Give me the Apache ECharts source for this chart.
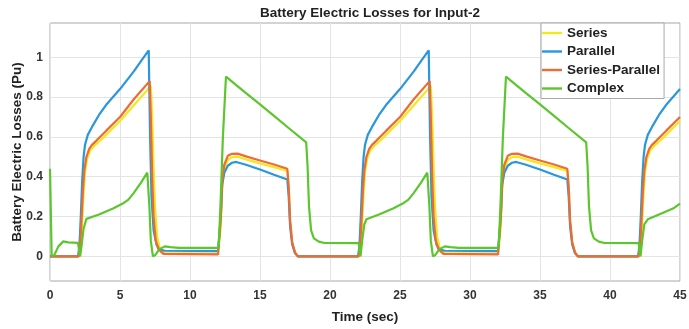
<!DOCTYPE html>
<html>
<head>
<meta charset="utf-8">
<script src="https://cdn.jsdelivr.net/npm/echarts@6/dist/echarts.min.js"></script>
<style>
html,body{margin:0;padding:0;background:#fff;}
#c{width:689px;height:329px;}
</style>
</head>
<body>
<div id="c"></div>
<script>
const titleText = 'Battery Electric Losses for Input-2';
const xName = 'Time (sec)';
const yName = 'Battery Electric Losses (Pu)';
const seriesNames = ['Series', 'Parallel', 'Series-Parallel', 'Complex'];
const yTicks = [0, 0.2, 0.4, 0.6, 0.8, 1];

const seriesData = [
  [0,0],[2.1,0],[2.2,0.05],[2.3,0.18],[2.4,0.32],[2.5,0.42],[2.65,0.49],[2.85,0.53],[3.1,0.55],[3.4,0.57],[4,0.61],[5,0.68],[6,0.76],[7.2,0.855],
  [7.3,0.7],[7.4,0.45],[7.5,0.25],[7.65,0.1],[7.85,0.04],[8.2,0.016],[12.0,0.012],[12.1,0.005],[12.2,0.15],[12.3,0.35],[12.45,0.44],[12.7,0.485],[13.0,0.498],[13.4,0.5],
  [14,0.487],[15,0.467],[16,0.448],[16.95,0.43],[17.05,0.35],[17.15,0.18],[17.3,0.07],[17.5,0.02],[17.7,0],
  [22.1,0],[22.2,0.05],[22.3,0.18],[22.4,0.32],[22.5,0.42],[22.65,0.49],[22.85,0.53],[23.1,0.55],[23.4,0.57],[24,0.61],[25,0.68],[26,0.76],[27.2,0.855],
  [27.3,0.7],[27.4,0.45],[27.5,0.25],[27.65,0.1],[27.85,0.04],[28.2,0.016],[32.0,0.012],[32.1,0.005],[32.2,0.15],[32.3,0.35],[32.45,0.44],[32.7,0.485],[33.0,0.498],[33.4,0.5],
  [34,0.487],[35,0.467],[36,0.448],[36.95,0.43],[37.05,0.35],[37.15,0.18],[37.3,0.07],[37.5,0.02],[37.7,0],
  [42.1,0],[42.2,0.05],[42.3,0.18],[42.4,0.32],[42.5,0.42],[42.65,0.49],[42.85,0.53],[43.1,0.55],[43.4,0.57],[44,0.61],[45,0.68]
];

const parallelData = [
  [0,0],[2.0,0],[2.1,0.05],[2.2,0.2],[2.3,0.38],[2.4,0.5],[2.5,0.56],[2.7,0.61],[3.0,0.65],[3.5,0.71],[4.0,0.76],[4.5,0.80],[5,0.84],[5.5,0.885],[6,0.93],[6.5,0.98],[7.05,1.035],
  [7.15,0.6],[7.25,0.3],[7.4,0.13],[7.6,0.06],[7.8,0.035],[8.2,0.028],[12.0,0.026],[12.1,0.02],[12.2,0.2],[12.3,0.36],[12.45,0.42],[12.7,0.455],[13.0,0.47],[13.3,0.474],
  [14,0.46],[15,0.436],[16,0.41],[16.95,0.386],[17.05,0.3],[17.15,0.15],[17.3,0.06],[17.5,0.015],[17.7,0],
  [22.0,0],[22.1,0.05],[22.2,0.2],[22.3,0.38],[22.4,0.5],[22.5,0.56],[22.7,0.61],[23.0,0.65],[23.5,0.71],[24.0,0.76],[24.5,0.80],[25,0.84],[25.5,0.885],[26,0.93],[26.5,0.98],[27.05,1.035],
  [27.15,0.6],[27.25,0.3],[27.4,0.13],[27.6,0.06],[27.8,0.035],[28.2,0.028],[32.0,0.026],[32.1,0.02],[32.2,0.2],[32.3,0.36],[32.45,0.42],[32.7,0.455],[33.0,0.47],[33.3,0.474],
  [34,0.46],[35,0.436],[36,0.41],[36.95,0.386],[37.05,0.3],[37.15,0.15],[37.3,0.06],[37.5,0.015],[37.7,0],
  [42.0,0],[42.1,0.05],[42.2,0.2],[42.3,0.38],[42.4,0.5],[42.5,0.56],[42.7,0.61],[43.0,0.65],[43.5,0.71],[44.0,0.76],[44.5,0.80],[45,0.84]
];

const seriesParallelData = [
  [0,0],[2.05,0],[2.15,0.05],[2.25,0.18],[2.35,0.33],[2.45,0.43],[2.6,0.5],[2.8,0.54],[3.0,0.56],[3.3,0.58],[4,0.63],[5,0.70],[6,0.79],[7.12,0.88],
  [7.2,0.7],[7.3,0.4],[7.4,0.2],[7.55,0.08],[7.75,0.035],[8.1,0.012],[12.0,0.01],[12.1,0.0],[12.2,0.2],[12.3,0.38],[12.45,0.46],[12.7,0.505],[13.0,0.515],[13.4,0.516],
  [14,0.502],[15,0.481],[16,0.461],[16.95,0.44],[17.05,0.35],[17.15,0.18],[17.3,0.07],[17.5,0.02],[17.7,0],
  [22.05,0],[22.15,0.05],[22.25,0.18],[22.35,0.33],[22.45,0.43],[22.6,0.5],[22.8,0.54],[23.0,0.56],[23.3,0.58],[24,0.63],[25,0.70],[26,0.79],[27.12,0.88],
  [27.2,0.7],[27.3,0.4],[27.4,0.2],[27.55,0.08],[27.75,0.035],[28.1,0.012],[32.0,0.01],[32.1,0.0],[32.2,0.2],[32.3,0.38],[32.45,0.46],[32.7,0.505],[33.0,0.515],[33.4,0.516],
  [34,0.502],[35,0.481],[36,0.461],[36.95,0.44],[37.05,0.35],[37.15,0.18],[37.3,0.07],[37.5,0.02],[37.7,0],
  [42.05,0],[42.15,0.05],[42.25,0.18],[42.35,0.33],[42.45,0.43],[42.6,0.5],[42.8,0.54],[43.0,0.56],[43.3,0.58],[44,0.63],[45,0.70]
];

const complexData = [
  [0,0.44],[0.12,0],[0.3,0.005],[0.6,0.05],[0.95,0.075],[1.3,0.07],[2.0,0.068],[2.08,0.03],[2.15,0.0],[2.25,0.05],[2.4,0.14],[2.6,0.188],[3.5,0.21],[4.5,0.24],[5.2,0.265],[5.6,0.285],[6.0,0.32],[6.5,0.37],[6.95,0.42],
  [7.1,0.25],[7.2,0.08],[7.35,0.0],[7.5,0.005],[7.8,0.035],[8.2,0.05],[8.6,0.046],[9.2,0.042],[12.05,0.042],[12.2,0.3],[12.35,0.6],[12.57,0.903],[13,0.878],[14,0.82],[15,0.763],[16,0.705],[17,0.647],[18.3,0.572],
  [18.4,0.45],[18.5,0.25],[18.65,0.13],[18.85,0.09],[19.2,0.074],[19.6,0.067],[22.05,0.066],[22.12,0.02],[22.18,0],[22.3,0.08],[22.45,0.16],[22.6,0.186],[23.5,0.21],[24.5,0.24],[25.2,0.265],[25.6,0.285],[26.0,0.32],[26.5,0.37],[26.95,0.42],
  [27.1,0.25],[27.2,0.08],[27.35,0.0],[27.5,0.005],[27.8,0.035],[28.2,0.05],[28.6,0.046],[29.2,0.042],[32.05,0.042],[32.2,0.3],[32.35,0.6],[32.57,0.903],[33,0.878],[34,0.82],[35,0.763],[36,0.705],[37,0.647],[38.3,0.572],
  [38.4,0.45],[38.5,0.25],[38.65,0.13],[38.85,0.09],[39.2,0.074],[39.6,0.067],[42.05,0.066],[42.12,0.02],[42.18,0],[42.3,0.08],[42.45,0.16],[42.7,0.186],[43.5,0.21],[44.5,0.24],[45,0.265]
];

const colors = ['#F2E81C', '#2A96DE', '#EE6B33', '#5CC62E'];
const allData = [seriesData, parallelData, seriesParallelData, complexData];
const FONT = 'Liberation Sans, Arial, sans-serif';

const chart = echarts.init(document.getElementById('c'), null, {renderer: 'canvas'});
chart.setOption({
  animation: false,
  backgroundColor: '#fff',
  title: {
    text: titleText, left: 365, top: 1, textAlign: 'center',
    textStyle: {fontFamily: FONT, fontSize: 13.5, fontWeight: 'bold', color: '#222'}
  },
  grid: {left: 50, right: 9, top: 23, bottom: 48, show: true, borderColor: '#a8a8a8', borderWidth: 1,
    containLabel: false, outerBoundsMode: 'none'},
  legend: {
    orient: 'vertical', left: 541, top: 23, itemWidth: 20, itemHeight: 14, itemGap: 4.5,
    padding: [3, 4, 3, 1], borderColor: '#a8a8a8', borderWidth: 1, backgroundColor: '#fff',
    icon: 'path://M0,0H20V2.4H0Z', symbolKeepAspect: true,
    data: seriesNames,
    textStyle: {fontFamily: FONT, fontSize: 13.5, fontWeight: 'bold', color: '#222'}
  },
  xAxis: {
    type: 'value', min: 0, max: 45, interval: 5,
    name: xName, nameLocation: 'middle', nameGap: 29,
    nameTextStyle: {fontFamily: FONT, fontSize: 13.5, fontWeight: 'bold', color: '#222'},
    axisLine: {show: false}, axisTick: {show: false},
    axisLabel: {fontFamily: FONT, fontSize: 12, fontWeight: 'bold', color: '#333', margin: 9},
    splitLine: {show: true, lineStyle: {color: '#e4e4e4', width: 1}}
  },
  yAxis: {
    type: 'value', min: -0.124, max: 1.172,
    name: yName, nameLocation: 'middle', nameGap: 26, nameRotate: 90, nameMoveOverlap: false,
    nameTextStyle: {fontFamily: FONT, fontSize: 13.5, fontWeight: 'bold', color: '#222'},
    axisLine: {show: false},
    axisTick: {show: false, customValues: yTicks},
    axisLabel: {fontFamily: FONT, fontSize: 12, fontWeight: 'bold', color: '#333', margin: 7, customValues: yTicks,
      formatter: v => String(Math.round(v * 10) / 10)},
    splitLine: {show: true, lineStyle: {color: '#e4e4e4', width: 1}}
  },
  series: seriesNames.map((n, i) => ({
    name: n, type: 'line', data: allData[i], showSymbol: false, symbol: 'none',
    lineStyle: {color: colors[i], width: 2.2}, itemStyle: {color: colors[i]}, z: 2 + i
  }))
});
</script>
</body>
</html>
